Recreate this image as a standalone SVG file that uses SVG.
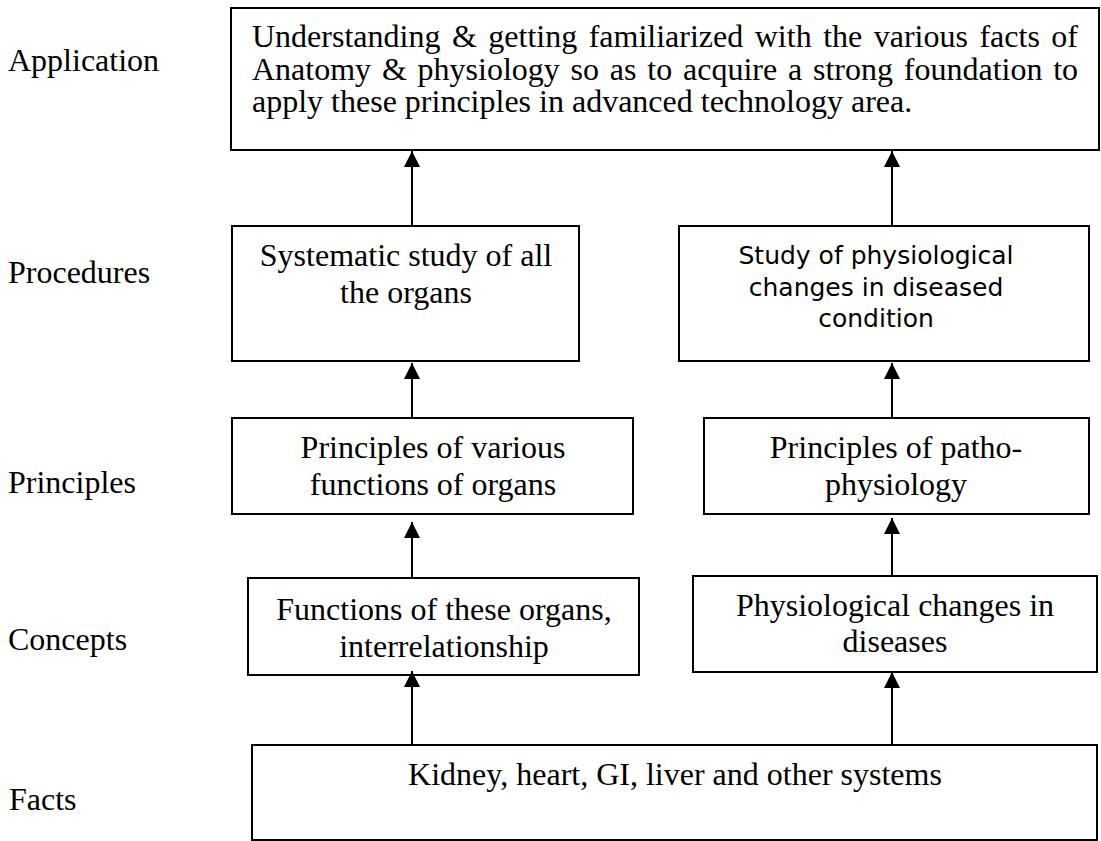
<svg xmlns="http://www.w3.org/2000/svg" width="1101" height="841" viewBox="0 0 1101 841">
<style>
  .box { fill: #ffffff; stroke: #000000; stroke-width: 2; }
  .t { font-family: "Liberation Serif", "Times New Roman", serif; font-size: 32px; fill: #000000; }
  .c { text-anchor: middle; }
  .v { font-family: "DejaVu Sans", Verdana, sans-serif; font-size: 25px; fill: #000000; text-anchor: middle; }
  .conn line { stroke: #000000; stroke-width: 2; }
</style>
<defs>
  <marker id="ah" markerUnits="userSpaceOnUse" markerWidth="16" markerHeight="16" viewBox="0 0 16 16" refX="16" refY="8" orient="auto">
    <polygon points="0,0 16,8 0,16" fill="#000000"/>
  </marker>
</defs>
<rect width="1101" height="841" fill="#ffffff"/>

<g id="levels">
  <text class="t" x="8" y="71">Application</text>
  <text class="t" x="8" y="283">Procedures</text>
  <text class="t" x="8" y="493">Principles</text>
  <text class="t" x="8" y="650">Concepts</text>
  <text class="t" x="9" y="810">Facts</text>
</g>

<g id="application">
  <rect class="box" x="231" y="8" width="868" height="142"/>
  <text class="t" x="252" y="47" style="word-spacing:3.5px">Understanding &amp; getting familiarized with the various facts of</text>
  <text class="t" x="252" y="80" style="word-spacing:2.8px">Anatomy &amp; physiology so as to acquire a strong foundation to</text>
  <text class="t" x="252" y="112">apply these principles in advanced technology area.</text>
</g>

<g id="proc-left">
  <rect class="box" x="232" y="226" width="347" height="135"/>
  <text class="t c" x="406" y="266">Systematic study of all</text>
  <text class="t c" x="406" y="303">the organs</text>
</g>

<g id="proc-right">
  <rect class="box" x="679" y="226" width="410" height="135"/>
  <text class="v" x="876" y="264">Study of physiological</text>
  <text class="v" x="876" y="296">changes in diseased</text>
  <text class="v" x="876" y="327">condition</text>
</g>

<g id="princ-left">
  <rect class="box" x="232" y="418" width="401" height="96"/>
  <text class="t c" x="433" y="458">Principles of various</text>
  <text class="t c" x="433" y="495">functions of organs</text>
</g>

<g id="princ-right">
  <rect class="box" x="704" y="418" width="385" height="96"/>
  <text class="t c" x="896" y="458">Principles of patho-</text>
  <text class="t c" x="896" y="495">physiology</text>
</g>

<g id="conc-left">
  <rect class="box" x="248" y="578" width="391" height="97"/>
  <text class="t c" x="444" y="620">Functions of these organs,</text>
  <text class="t c" x="444" y="657">interrelationship</text>
</g>

<g id="conc-right">
  <rect class="box" x="693" y="576" width="404" height="96"/>
  <text class="t c" x="895" y="616">Physiological changes in</text>
  <text class="t c" x="895" y="652">diseases</text>
</g>

<g id="facts">
  <rect class="box" x="252" y="745" width="845" height="95"/>
  <text class="t c" x="675" y="785">Kidney, heart, GI, liver and other systems</text>
</g>

<g id="connectors" class="conn">
  <line x1="412" y1="745" x2="412" y2="671" marker-end="url(#ah)"/>
  <line x1="412" y1="578" x2="412" y2="522" marker-end="url(#ah)"/>
  <line x1="412" y1="418" x2="412" y2="363" marker-end="url(#ah)"/>
  <line x1="412" y1="226" x2="412" y2="151" marker-end="url(#ah)"/>
  <line x1="892" y1="745" x2="892" y2="672" marker-end="url(#ah)"/>
  <line x1="892" y1="576" x2="892" y2="518" marker-end="url(#ah)"/>
  <line x1="892" y1="418" x2="892" y2="363" marker-end="url(#ah)"/>
  <line x1="892" y1="226" x2="892" y2="151" marker-end="url(#ah)"/>
</g>
</svg>
